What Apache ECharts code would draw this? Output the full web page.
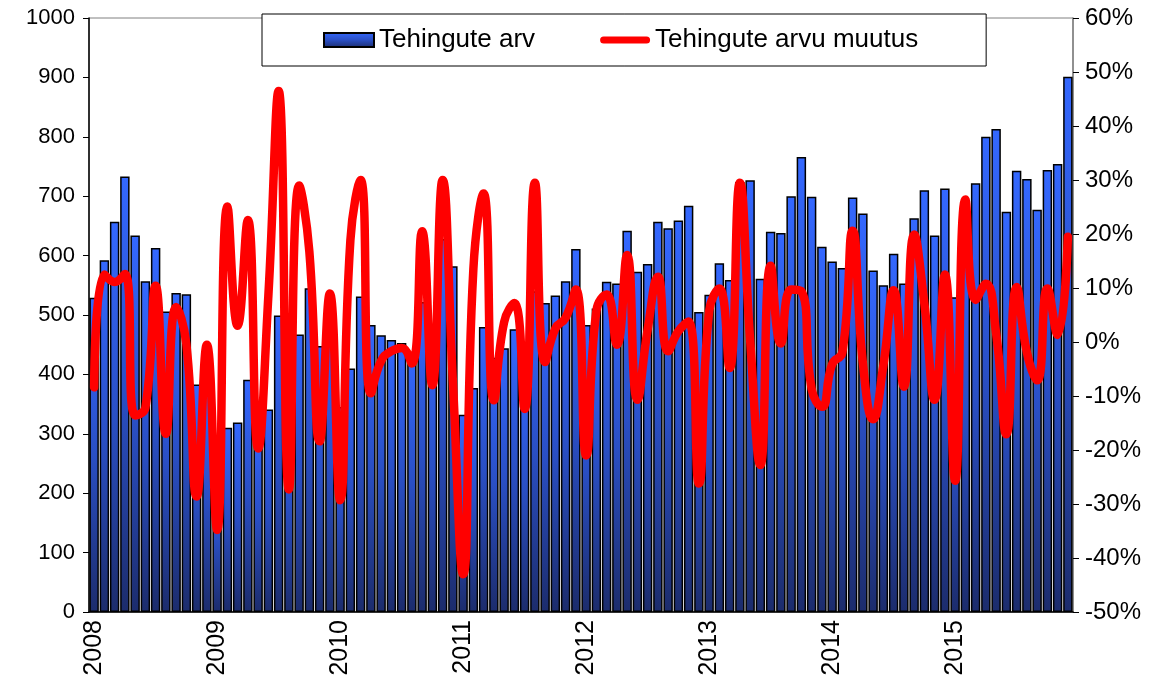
<!DOCTYPE html>
<html>
<head>
<meta charset="utf-8">
<script src="https://cdn.jsdelivr.net/npm/echarts@6/dist/echarts.min.js"></script>
<style>
	html, body { margin: 0; padding: 0; background: #fff; }
	#chart { width: 1166px; height: 681px; }
</style>
</head>
<body>
<div id="chart"></div>
<script>
	// kuud 2008-01 ... 2015-12
	var years = ['2008', '2009', '2010', '2011', '2012', '2013', '2014', '2015'];
	var months = [];
	years.forEach(function (y) {
		for (var m = 1; m <= 12; m++) {
			months.push(y + '-' + (m < 10 ? '0' + m : m));
		}
	});

	// tehingute arv kuus
	var tehinguteArv = [
		529, 592, 657, 733, 634, 557, 613, 506, 537, 535, 383, 381,
		248, 310, 319, 391, 314, 341, 499, 363, 467, 545, 448, 488,
		345, 410, 531, 483, 466, 458, 453, 435, 522, 480, 628, 582,
		332, 377, 480, 428, 444, 476, 417, 540, 520, 533, 557, 611,
		483, 511, 556, 553, 642, 573, 586, 657, 646, 659, 684, 505,
		534, 587, 559, 724, 727, 561, 640, 638, 700, 766, 699, 615,
		590, 579, 698, 671, 575, 550, 603, 553, 663, 710, 634, 713,
		530, 670, 722, 800, 813, 674, 743, 729, 677, 744, 754, 901
	];

	// muutus eelmise kuuga (%)
	var arvuMuutus = [
		-8.4, 12.5, 11.1, 12.6, -13.6, -12.2, 10.4, -17.0, 6.5, -0.4, -28.6, -0.5,
		-34.8, 25.1, 3.0, 22.6, -19.7, 8.6, 46.5, -27.3, 29.0, 16.7, -18.4, 9.0,
		-29.3, 18.8, 30.0, -9.5, -3.5, -1.7, -1.1, -4.0, 20.5, -8.0, 30.0, -7.3,
		-43.0, 13.5, 27.5, -10.8, 3.7, 7.2, -12.4, 29.5, -3.7, 2.5, 4.5, 9.7,
		-21.0, 5.8, 8.8, -0.5, 16.1, -10.7, 2.3, 12.1, -1.7, 2.0, 3.8, -26.2,
		5.7, 9.9, -4.8, 29.5, 0.4, -22.8, 14.1, -0.3, 9.7, 9.4, -8.7, -12.0,
		-4.1, -1.9, 20.6, -3.9, -14.3, -4.3, 9.6, -8.3, 19.9, 7.1, -10.7, 12.5,
		-25.7, 26.4, 7.8, 10.8, 1.6, -17.1, 10.2, -1.9, -7.1, 9.9, 1.3, 19.5
	];

	var font = 'Arial, "Liberation Sans", sans-serif';

	var myChart = echarts.init(document.getElementById('chart'), null, { renderer: 'canvas' });
	myChart.setOption({
		animation: false,
		backgroundColor: '#fff',
		textStyle: { fontFamily: font },
		grid: {
			left: 89,
			right: 93,
			top: 18,
			bottom: 69,
			show: true,
			borderColor: '#808080',
			borderWidth: 1
		},
		legend: {
			left: 262,
			top: 14,
			padding: [13, 68, 13, 61],
			itemGap: 65,
			itemWidth: 50,
			itemHeight: 14,
			symbolKeepAspect: true,
			borderColor: '#000',
			borderWidth: 1,
			borderRadius: 0,
			backgroundColor: '#fff',
			textStyle: {
				color: '#000',
				fontSize: 26,
				fontFamily: font
			},
			data: [
				{ name: 'Tehingute arv', icon: 'rect' },
				{
					name: 'Tehingute arvu muutus',
					icon: 'path://M4,0 L52,0 A4,4 0 0 1 52,8 L4,8 A4,4 0 0 1 4,0 Z',
					itemStyle: { color: '#ff0000', borderWidth: 0 }
				}
			]
		},
		xAxis: {
			type: 'category',
			data: months,
			boundaryGap: true,
			axisLine: {
				lineStyle: { color: '#000', width: 1.5 }
			},
			axisTick: {
				interval: 0,
				length: 6,
				lineStyle: { color: '#000', width: 1 }
			},
			axisLabel: {
				interval: 11,
				rotate: 90,
				margin: 8,
				color: '#000',
				fontSize: 25,
				fontFamily: font,
				formatter: function (val) {
					return val.split('-')[0];
				}
			},
			splitLine: { show: false }
		},
		yAxis: [
			{
				type: 'value',
				min: 0,
				max: 1000,
				interval: 100,
				axisLine: {
					show: true,
					lineStyle: { color: '#000', width: 1.5 }
				},
				axisTick: {
					show: true,
					length: 6,
					lineStyle: { color: '#000' }
				},
				axisLabel: {
					color: '#000',
					fontSize: 22,
					margin: 14,
					fontFamily: font,
					formatter: function (v) {
						return String(v);
					}
				},
				splitLine: { show: false }
			},
			{
				type: 'value',
				min: -50,
				max: 60,
				interval: 10,
				position: 'right',
				axisLine: {
					show: true,
					lineStyle: { color: '#808080', width: 1.5 }
				},
				axisTick: {
					show: true,
					length: 6,
					lineStyle: { color: '#000' }
				},
				axisLabel: {
					color: '#000',
					fontSize: 24,
					margin: 12,
					fontFamily: font,
					formatter: '{value}%'
				},
				splitLine: { show: false }
			}
		],
		series: [
			{
				name: 'Tehingute arv',
				type: 'bar',
				yAxisIndex: 0,
				barCategoryGap: '8%',
				data: tehinguteArv,
				itemStyle: {
					borderColor: '#000',
					borderWidth: 1.5,
					color: new echarts.graphic.LinearGradient(0, 0, 0, 1, [
						{ offset: 0, color: '#3468ff' },
						{ offset: 0.5, color: '#2a4fc4' },
						{ offset: 1, color: '#1c2c6c' }
					])
				},
				z: 2
			},
			{
				name: 'Tehingute arvu muutus',
				type: 'line',
				yAxisIndex: 1,
				data: arvuMuutus,
				smooth: 0.5,
				showSymbol: false,
				symbol: 'none',
				lineStyle: {
					color: '#ff0000',
					width: 8.5,
					cap: 'round',
					join: 'round'
				},
				itemStyle: { color: '#ff0000' },
				z: 3
			}
		]
	});
</script>
</body>
</html>
